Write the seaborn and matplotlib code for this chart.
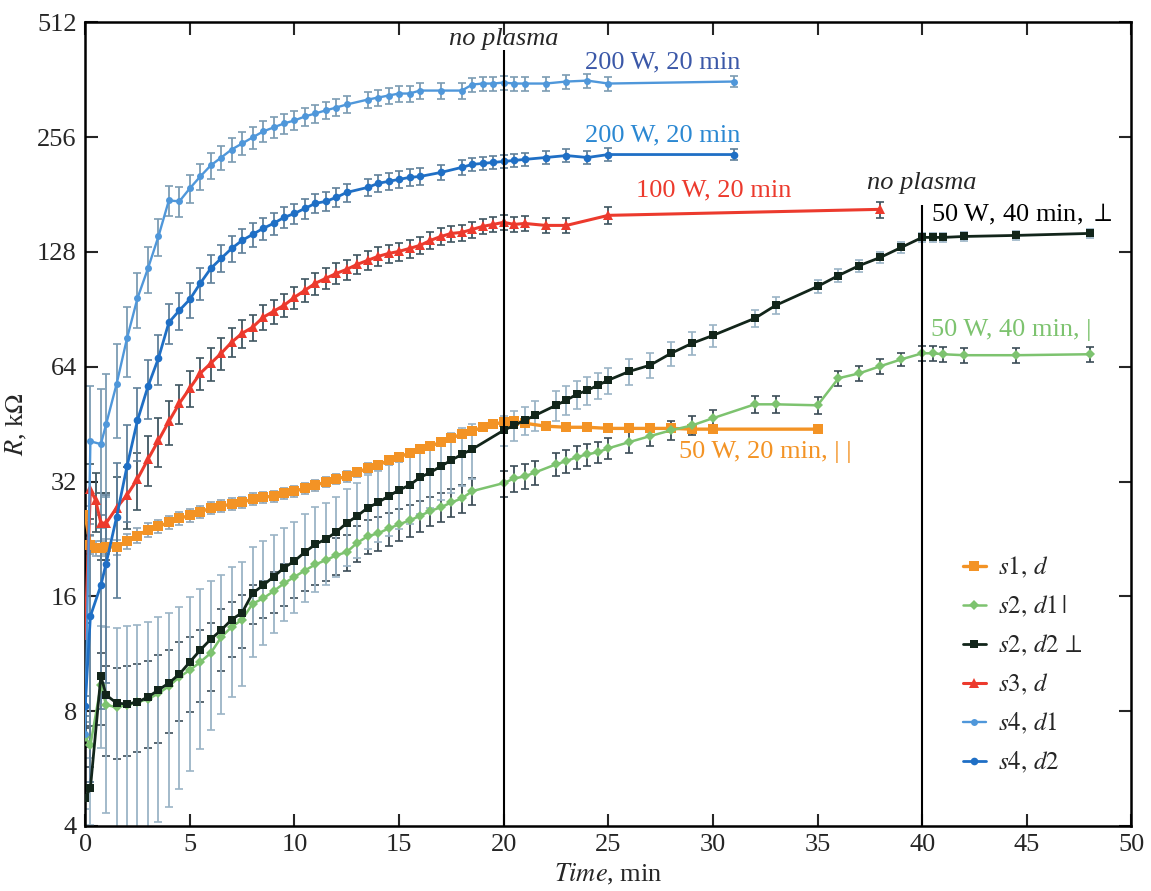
import numpy as np
import pandas as pd
import matplotlib
matplotlib.use("Agg")
import matplotlib.pyplot as plt
from matplotlib.lines import Line2D
from matplotlib.ticker import FixedLocator, FuncFormatter, NullLocator
import seaborn as sns

# ── data ────────────────────────────────────────────────────────────────────
# s1, d  (orange)
T_S1 = [0, 0.25, 0.5, 0.75, 1.0,
        1.5, 2, 2.5, 3, 3.5, 4, 4.5, 5, 5.5, 6, 6.5, 7, 7.5, 8, 8.5, 9, 9.5, 10,
        10.5, 11, 11.5, 12, 12.5, 13, 13.5, 14, 14.5, 15, 15.5, 16, 16.5, 17,
        17.5, 18, 18.5, 19, 19.5, 20,
        20.5, 21, 22, 23, 24, 25, 26, 27, 28, 29, 30, 35]
R_S1 = [26.1, 21.8, 21.4, 21.4, 21.6,
        21.5, 22.3, 23.1, 23.9, 24.4, 25.0, 25.6, 26.1, 26.6, 27.3, 27.6, 27.9,
        28.2, 28.8, 29.1, 29.3, 29.8, 30.2, 30.7, 31.3, 31.9, 32.5, 33.0, 33.8,
        34.7, 35.3, 36.4, 37.1, 38.0, 38.9, 39.6, 40.6, 41.6, 42.6, 43.4, 44.4,
        45.2, 45.8,
        46.0, 45.5, 44.7, 44.4, 44.4, 44.1, 44.1, 44.1, 44.1, 43.9, 43.9, 43.9]
E_S1 = [1.5, 1.2, 1.0, 1.0, 1.0,
        1.0, 1.0, 1.0, 1.0, 1.0, 1.0, 1.0, 1.0, 1.0, 1.0, 1.0, 1.0, 1.0, 1.0,
        1.0, 1.0, 1.0, 1.0, 1.0, 1.0, 1.0, 1.0, 1.0, 1.0, 1.0, 1.0, 1.0, 1.0,
        1.0, 1.0, 1.0, 1.0, 1.0, 1.0, 1.0, 1.0, 1.0, 1.0,
        1.0, 1.0, 1.0, 1.0, 1.0, 1.0, 1.0, 1.0, 1.0, 1.0, 1.0, 1.0]

# s2, d1 | (green) and s2, d2 ⊥ (black) share the time grid
T_S2 = [0, 0.25, 0.75,
        1.0, 1.5, 2, 2.5, 3, 3.5, 4, 4.5, 5, 5.5, 6, 6.5, 7, 7.5, 8, 8.5, 9,
        9.5, 10, 10.5, 11, 11.5, 12, 12.5, 13, 13.5, 14, 14.5, 15, 15.5, 16,
        16.5, 17, 17.5, 18, 18.5,
        20, 20.5, 21, 21.5, 22.5, 23, 23.5, 24, 24.5, 25,
        26, 27, 28, 29, 30,
        32, 33, 35, 36, 37, 38, 39, 40, 40.5, 41, 42, 44.5, 48]
R_S2D1 = [6.84, 6.52, 9.36,
          8.30, 8.20, 8.30, 8.45, 8.6, 8.9, 9.3, 9.83, 10.25, 10.76, 11.36,
          12.5, 13.3, 13.9, 15.3, 15.8, 16.5, 17.3, 18.0, 18.7, 19.4, 19.9,
          20.5, 20.9, 22.1, 23.0, 23.4, 24.1, 24.7, 25.3, 26.0, 26.8, 27.4,
          28.2, 28.9, 30.2,
          31.7, 32.6, 33.0, 33.8, 35.5, 36.2, 37.1, 37.7, 38.2, 39.1,
          40.6, 42.1, 43.6, 44.9, 46.9,
          51.0, 51.0, 50.7, 59.7, 61.5, 64.2, 66.9, 69.4, 69.4, 69.0, 68.6,
          68.6, 69.0]
E_S2D1 = [0.4, 0.8, 2.0,
          2.2, 2.2, 2.2, 2.2, 2.2, 2.3, 2.3, 2.3, 2.3, 2.3, 2.3, 2.3, 2.2,
          2.2, 1.8, 1.8, 2.0, 2.2, 2.2, 2.2, 2.3, 2.3, 2.3, 2.3, 2.4, 2.4,
          2.4, 2.4, 2.4, 2.4, 2.4, 2.4, 2.4, 2.4, 2.4, 2.4,
          2.5, 2.5, 2.5, 2.5, 2.5, 2.5, 2.5, 2.5, 2.5, 2.5,
          2.5, 2.5, 2.5, 2.5, 2.5,
          2.5, 2.5, 2.5, 2.8, 2.8, 2.8, 2.8, 3.0, 3.0, 3.0, 3.0, 3.0, 3.0]
R_S2D2 = [4.74, 5.03, 9.89,
          8.82, 8.40, 8.35, 8.45, 8.71, 9.09, 9.48, 10.0, 10.76, 11.57, 12.35,
          13.05, 13.9, 14.5, 16.3, 17.1, 18.0, 19.0, 19.8, 20.9, 21.9, 22.6,
          23.6, 24.9, 26.0, 27.3, 28.2, 29.3, 30.4, 31.3, 32.8, 33.8, 35.1,
          36.4, 37.7, 38.9,
          43.6, 44.9, 46.3, 47.7, 50.7, 52.3, 54.2, 55.5, 57.2, 59.0,
          62.2, 64.6, 69.4, 73.7, 77.3,
          85.7, 92.7, 103.9, 111.0, 117.9, 123.8, 131.5, 139.7, 139.7, 139.7,
          140.5, 141.4, 143.1]
E_S2D2 = [0.3, 1.0, 3.5,
          4.5, 4.8, 5.0, 5.0, 5.0, 5.0, 5.0, 5.0, 5.2, 5.2, 5.2, 5.2, 5.2,
          5.2, 5.2, 5.2, 5.2, 5.2, 5.3, 5.4, 5.5, 5.5, 5.6, 5.7, 5.8, 6.0,
          6.0, 6.2, 6.4, 6.5, 6.5, 6.5, 6.5, 6.5, 6.5, 6.5,
          4.0, 4.0, 4.0, 4.2, 4.5, 4.5, 4.5, 4.6, 4.6, 4.6,
          4.8, 4.8, 5.0, 5.0, 5.0,
          4.5, 4.5, 4.2, 4.2, 4.2, 4.2, 4.2, 4.2, 4.2, 4.2, 4.2, 4.2, 4.2]

# s3, d (red)
T_S3 = [0, 0.25, 0.5, 0.75, 1.0,
        1.5, 2, 2.5, 3, 3.5, 4, 4.5, 5, 5.5, 6, 6.5, 7, 7.5, 8, 8.5, 9, 9.5, 10,
        10.5, 11, 11.5, 12, 12.5, 13, 13.5, 14, 14.5, 15, 15.5, 16, 16.5, 17,
        17.5, 18, 18.5, 19, 19.5, 20,
        20.5, 21, 22, 23, 25, 38]
R_S3 = [12.66, 30.5, 28.6, 24.9, 24.9,
        27.3, 29.5, 32.5, 36.6, 41.0, 46.0, 51.3, 56.2, 61.5, 65.3, 69.4, 74.2,
        78.3, 81.2, 86.2, 89.4, 92.7, 97.3, 101.5, 105.9, 109.1, 112.4, 115.2,
        118.7, 121.6, 124.6, 126.8, 128.4, 130.7, 133.1, 137.2, 140.5, 143.1,
        144.0, 146.6, 149.3, 151.1, 153.0,
        151.1, 152.0, 150.2, 150.2, 159.6, 165.5]
E_S3 = [1.0, 5.0, 5.0, 5.0, 5.0,
        5.5, 5.5, 5.5, 5.5, 6.0, 6.0, 6.0, 6.0, 6.0, 6.5, 6.5, 6.5, 6.5, 6.5,
        6.5, 6.5, 6.5, 6.5, 7.0, 7.0, 7.0, 7.0, 7.0, 7.0, 7.0, 7.0, 7.0, 7.0,
        7.0, 7.0, 7.0, 7.0, 7.0, 7.0, 7.0, 7.0, 7.0, 7.0,
        7.0, 7.0, 7.0, 7.0, 8.0, 8.0]

# s4, d1 (light blue) and s4, d2 (blue) share the time grid
T_S4 = [0, 0.25, 0.75, 1.0,
        1.5, 2, 2.5, 3, 3.5, 4, 4.5, 5, 5.5, 6, 6.5, 7, 7.5, 8, 8.5, 9, 9.5,
        10, 10.5, 11, 11.5, 12, 12.5,
        13.5, 14, 14.5, 15, 15.5, 16, 17, 18,
        18.5, 19, 19.5, 20, 20.5, 21, 22, 23, 24, 25, 31]
R_S4D1 = [6.97, 40.8, 40.1, 45.2,
          57.6, 76.0, 96.8, 115.8, 140.5, 174.7, 173.6, 187.8, 201.8, 215.7,
          226.3, 237.5, 246.3, 255.5, 264.8, 271.3, 278.0, 283.0, 289.9,
          295.3, 300.8, 306.0, 311.7,
          321.0, 325.0, 329.0, 333.0, 333.0, 339.0, 339.0, 339.0,
          351.6, 353.7, 353.7, 355.8, 353.7, 353.7, 353.7, 358.0, 360.0,
          353.7, 358.0]
E_S4D1 = [0.5, 16, 16, 16,
          16, 16, 16, 16, 16, 16, 16, 16, 16, 17, 17, 17, 17, 17, 17, 17, 17,
          16, 16, 16, 16, 16, 16,
          16, 16, 16, 16, 16, 16, 16, 16,
          15, 15, 15, 15, 15, 15, 15, 15, 15, 15, 12]
R_S4D2 = [8.25, 14.2, 17.1, 19.5,
          25.8, 35.1, 46.3, 56.8, 67.3, 83.6, 89.9, 96.1, 105.9, 115.8, 123.1,
          130.7, 137.2, 142.2, 147.5, 152.0, 157.6, 161.4, 166.4, 171.6,
          173.6, 177.9, 183.3,
          188.9, 193.6, 196.0, 198.3, 200.7, 201.8, 206.8, 213.2,
          217.1, 218.4, 219.7, 221.0, 222.3, 223.7, 226.3, 229.0, 226.3,
          230.4, 230.4]
E_S4D2 = [0.5, 9, 9, 10,
          10, 10, 10, 10, 10, 10, 10, 10, 10, 10, 10, 10, 10, 10, 10, 10, 10,
          10, 10, 10, 10, 10, 10,
          10, 10, 10, 10, 10, 10, 9.5, 9.5,
          9, 9, 9, 9, 9, 9, 9, 9, 9, 9, 8]

LABELS = [r"$s1,\,d$", r"$s2,\,d1\,|$", r"$s2,\,d2\,\perp$",
          r"$s3,\,d$", r"$s4,\,d1$", r"$s4,\,d2$"]
COLORS = ["#f39325", "#7dc36f", "#12251a", "#ec3a2d", "#4f97da", "#1f6fc5"]
ECOLORS = ["#8fa6b8", "#3c4d57", "#9bb4c6", "#3f5661", "#7c9cb3", "#60809a"]
MARKERS = ["s", "D", "s", "^", "o", "o"]
MSIZES = [6.8, 5.0, 5.8, 6.5, 5.0, 5.5]
LWIDTHS = [2.4, 1.8, 2.0, 2.2, 1.7, 2.0]

series = [(T_S1, R_S1, E_S1), (T_S2, R_S2D1, E_S2D1), (T_S2, R_S2D2, E_S2D2),
          (T_S3, R_S3, E_S3), (T_S4, R_S4D1, E_S4D1), (T_S4, R_S4D2, E_S4D2)]

# ── style ───────────────────────────────────────────────────────────────────
sns.set_theme(style="ticks")
plt.rcParams["font.family"] = ["Liberation Serif", "DejaVu Serif"]
plt.rcParams["mathtext.fontset"] = "stix"

fig, ax = plt.subplots(figsize=(11.51, 8.91), dpi=100)
fig.subplots_adjust(left=0.074, right=0.983, top=0.975, bottom=0.073)

# error bars first, lines on top
for (t, r, e), ec in zip(series, ECOLORS):
    ax.errorbar(t, r, yerr=e, fmt="none", ecolor=ec, elinewidth=1.3,
                capsize=3, capthick=1.2, zorder=2)

order = [0, 1, 3, 4, 5, 2]  # black drawn over green
for i in order:
    t, r, _ = series[i]
    df = pd.DataFrame({"t": t, "R": r})
    sns.lineplot(data=df, x="t", y="R", ax=ax, estimator=None, sort=False,
                 color=COLORS[i], marker=MARKERS[i], markersize=MSIZES[i],
                 markeredgewidth=0, linewidth=LWIDTHS[i], zorder=3 + i)

# "no plasma" markers
ax.vlines(20, 4, 432, color="black", lw=1.5, zorder=10)
ax.vlines(40, 4, 170, color="black", lw=1.5, zorder=10)

ax.set_yscale("log", base=2)
ax.set_xlim(0, 50)
ax.set_ylim(4, 512)
ax.yaxis.set_major_locator(FixedLocator([4, 8, 16, 32, 64, 128, 256, 512]))
ax.yaxis.set_major_formatter(FuncFormatter(lambda v, _: f"{v:g}"))
ax.yaxis.set_minor_locator(NullLocator())
ax.set_xticks(range(0, 51, 5))

ax.tick_params(direction="in", top=True, right=True, length=9, width=1.5,
               labelsize=19, pad=6)
for s in ax.spines.values():
    s.set_linewidth(1.8)
    s.set_color("black")

ax.set_xlabel(r"$\mathit{Time}$, min", fontsize=19, labelpad=4)
ax.set_ylabel(r"$R$, k$\Omega$", fontsize=19, labelpad=6)

# annotations
FS = 19
ax.text(20, 462, "no plasma", style="italic", fontsize=FS, ha="center",
        va="center")
ax.text(40, 194, "no plasma", style="italic", fontsize=FS, ha="center",
        va="center")
ax.text(23.9, 401, "200 W, 20 min", color="#3b58a8", fontsize=FS,
        ha="left", va="center")
ax.text(23.9, 258, "200 W, 20 min", color="#2b88d2", fontsize=FS,
        ha="left", va="center")
ax.text(26.3, 186, "100 W, 20 min", color="#ec3a2d", fontsize=FS,
        ha="left", va="center")
ax.text(40.4, 160, r"50 W, 40 min, $\perp$", color="black", fontsize=FS,
        ha="left", va="center")
ax.text(40.4, 80, "50 W, 40 min, |", color="#7dc36f", fontsize=FS,
        ha="left", va="center")
ax.text(28.4, 38.2, "50 W, 20 min, | |", color="#f39325", fontsize=FS,
        ha="left", va="center")

handles = [Line2D([0], [0], color=COLORS[i], marker=MARKERS[i],
                  markersize=MSIZES[i], markeredgewidth=0, lw=LWIDTHS[i])
           for i in range(6)]
ax.legend(handles, LABELS, loc="lower right", bbox_to_anchor=(0.975, 0.035),
          frameon=False, fontsize=18, handlelength=0.9, handletextpad=0.5,
          labelspacing=0.55)

fig.savefig("out.png", dpi=100)
